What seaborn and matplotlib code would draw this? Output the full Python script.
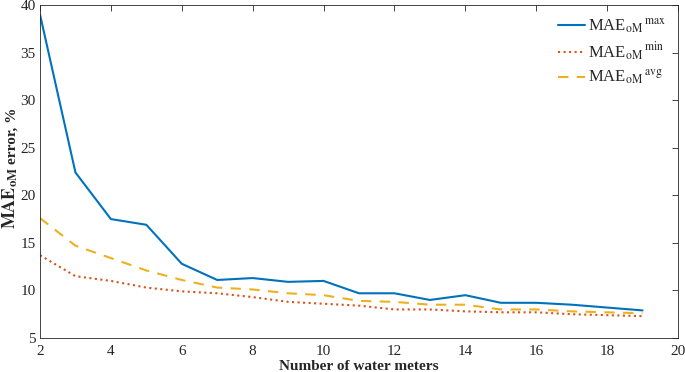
import pandas as pd
import matplotlib
matplotlib.use("Agg")
import matplotlib.pyplot as plt
import seaborn as sns

# Values
meters = list(range(2, 20))
mae_max = [39.0, 22.4, 17.5, 16.9, 12.8, 11.1, 11.3, 10.9, 11.0, 9.7, 9.7, 9.0, 9.5, 8.7, 8.7, 8.5, 8.2, 7.9]
mae_min = [13.7, 11.5, 11.0, 10.3, 9.9, 9.7, 9.3, 8.8, 8.6, 8.4, 8.0, 8.0, 7.8, 7.7, 7.7, 7.5, 7.4, 7.3]
mae_avg = [17.6, 14.7, 13.4, 12.1, 11.1, 10.3, 10.1, 9.7, 9.5, 8.9, 8.8, 8.5, 8.5, 8.0, 8.0, 7.8, 7.7, 7.6]

df = pd.DataFrame({"meters": meters, "max": mae_max, "min": mae_min, "avg": mae_avg})

sns.set_style("white")
plt.rcParams["font.family"] = ["Liberation Serif", "DejaVu Serif"]
plt.rcParams["mathtext.fontset"] = "stix"

W, H = 685, 372
fig = plt.figure(figsize=(W / 100, H / 100), dpi=100)
ax = fig.add_axes([40 / W, 1 - 338 / H, 638 / W, 333 / H])

sns.lineplot(data=df, x="meters", y="max", ax=ax, color="#0072BD", lw=1.5,
             label=r"MAE$_{\mathrm{oM}}\,^{\mathrm{max}}$")
sns.lineplot(data=df, x="meters", y="min", ax=ax, color="#D95319", lw=1.5,
             linestyle=":", label=r"MAE$_{\mathrm{oM}}\,^{\mathrm{min}}$")
sns.lineplot(data=df, x="meters", y="avg", ax=ax, color="#EDB120", lw=1.5,
             linestyle=(0, (5, 4)), label=r"MAE$_{\mathrm{oM}}\,^{\mathrm{avg}}$")

ax.set_xlim(2, 20)
ax.set_ylim(5, 40)
ax.set_xticks(range(2, 21, 2))
ax.set_yticks(range(5, 41, 5))
ax.tick_params(direction="in", top=True, right=True, length=4, width=0.6,
               labelsize=11, colors="#262626")
ax.tick_params(axis="x", pad=5)
ax.tick_params(axis="y", pad=3)
for s in ax.spines.values():
    s.set_color("#262626")
    s.set_linewidth(0.6)

ax.set_xlabel("Number of water meters", fontsize=11, fontweight="bold")
ax.xaxis.set_label_coords(0.5, (338 - 360) / 333)
ax.set_ylabel("")

# y label: larger "MAE_oM" followed by smaller "error, %"
t1 = fig.text(16 / W, 1 - 229 / H, r"$\mathbf{MAE}_{\mathbf{oM}}$", rotation=90,
              rotation_mode="anchor", ha="left", va="baseline", fontsize=13)
fig.canvas.draw()
bb = t1.get_window_extent()
fig.text(16 / W, (bb.y1 + 3) / H, "error, %", rotation=90, rotation_mode="anchor",
         ha="left", va="baseline", fontsize=11, fontweight="bold")

leg = ax.legend(loc="upper right", frameon=False, fontsize=12, handlelength=1.6,
                handletextpad=0.2, labelspacing=0.3, borderaxespad=0.3)

fig.savefig("out.png", dpi=100)
